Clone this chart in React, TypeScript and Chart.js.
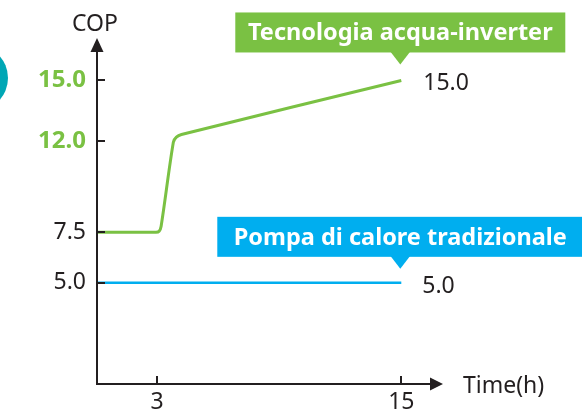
import React, { useEffect, useRef } from "react";
import { Chart, registerables } from "chart.js";

Chart.register(...registerables);

const FONT = "'Noto Sans', 'Open Sans', sans-serif";
const INK = "#231f20";
const GREEN = "#7ac143";
const BLUE = "#00aeef";
const TEAL = "#00a7b5";

// Data
const inverterTime = [0, 2.95, 3.1, 3.2, 3.8, 3.95, 4.2, 15];
const inverterCop = [7.5, 7.5, 7.55, 7.8, 11.95, 12.2, 12.33, 15];
const traditionalTime = [0, 15];
const traditionalCop = [5, 5];

const yTickValues = [5, 7.5, 12, 15];
const yTickLabels = ["5.0", "7.5", "12.0", "15.0"];
const yTickHighlighted = [false, false, true, true];
const xTickValues = [3, 15];
const xTickLabels = ["3", "15"];

const inverterLabel = "Tecnologia acqua-inverter";
const traditionalLabel = "Pompa di calore tradizionale";
const inverterEndLabel = "15.0";
const traditionalEndLabel = "5.0";
const yTitle = "COP";
const xTitle = "Time(h)";

const decorPlugin = {
  id: "decor",
  afterDatasetsDraw(chart: any) {
    const { ctx, chartArea, scales } = chart;
    const xs = scales.x;
    const ys = scales.y;
    const left = chartArea.left + 1;
    const bottom = chartArea.bottom;
    ctx.save();
    ctx.strokeStyle = INK;
    ctx.fillStyle = INK;
    ctx.lineWidth = 2;
    // axes
    ctx.beginPath();
    ctx.moveTo(left, bottom + 1);
    ctx.lineTo(left, chartArea.top + 10);
    ctx.moveTo(left - 1, bottom);
    ctx.lineTo(chartArea.right - 10, bottom);
    ctx.stroke();
    // arrows
    ctx.beginPath();
    ctx.moveTo(left, chartArea.top - 2);
    ctx.lineTo(left - 6.5, chartArea.top + 12);
    ctx.lineTo(left + 6.5, chartArea.top + 12);
    ctx.closePath();
    ctx.fill();
    ctx.beginPath();
    ctx.moveTo(chartArea.right + 1, bottom);
    ctx.lineTo(chartArea.right - 12, bottom - 6.5);
    ctx.lineTo(chartArea.right - 12, bottom + 6.5);
    ctx.closePath();
    ctx.fill();
    // tick marks
    ctx.lineWidth = 2;
    ctx.beginPath();
    yTickValues.forEach((v) => {
      const y = Math.round(ys.getPixelForValue(v));
      ctx.moveTo(left, y);
      ctx.lineTo(left + 8, y);
    });
    xTickValues.forEach((v) => {
      const x = Math.round(xs.getPixelForValue(v));
      ctx.moveTo(x, bottom);
      ctx.lineTo(x, bottom - 8);
    });
    ctx.stroke();
    ctx.restore();
  },
  afterDraw(chart: any) {
    const { ctx, chartArea, scales } = chart;
    const xs = scales.x;
    const ys = scales.y;
    ctx.save();
    // teal decoration circle
    ctx.fillStyle = TEAL;
    ctx.beginPath();
    ctx.arc(-25, 78, 33, 0, Math.PI * 2);
    ctx.fill();

    // axis titles
    ctx.fillStyle = INK;
    ctx.font = `23px ${FONT}`;
    ctx.textAlign = "center";
    ctx.textBaseline = "alphabetic";
    ctx.fillText(yTitle, chartArea.left - 1, 30.5);
    ctx.textAlign = "left";
    ctx.fillText(xTitle, chartArea.right + 21, chartArea.bottom + 9);

    // end labels
    const endX = xs.getPixelForValue(inverterTime[inverterTime.length - 1]);
    const gY = ys.getPixelForValue(inverterCop[inverterCop.length - 1]);
    const bX = xs.getPixelForValue(traditionalTime[traditionalTime.length - 1]);
    const bY = ys.getPixelForValue(traditionalCop[traditionalCop.length - 1]);
    ctx.fillText(inverterEndLabel, endX + 22, gY + 9.5);
    ctx.fillText(traditionalEndLabel, bX + 21, bY + 10);

    // callouts
    const callout = (text: string, color: string, tipX: number, tipY: number, halfW: number) => {
      const boxBottom = tipY - 12;
      const boxTop = boxBottom - 40;
      ctx.fillStyle = color;
      ctx.fillRect(tipX - halfW, boxTop, halfW * 2, 40);
      ctx.beginPath();
      ctx.moveTo(tipX - 10, boxBottom - 1);
      ctx.lineTo(tipX + 10, boxBottom - 1);
      ctx.lineTo(tipX, tipY);
      ctx.closePath();
      ctx.fill();
      ctx.fillStyle = "#ffffff";
      ctx.font = `bold 23.5px ${FONT}`;
      ctx.textAlign = "center";
      ctx.textBaseline = "alphabetic";
      ctx.fillText(text, tipX, boxTop + 28);
    };
    callout(inverterLabel, GREEN, endX - 1, gY - 16, 165);
    callout(traditionalLabel, BLUE, bX - 1, bY - 14, 183);
    ctx.restore();
  },
};

export default function App() {
  const ref = useRef<HTMLCanvasElement | null>(null);
  useEffect(() => {
    document.body.style.margin = "0";
    if (!ref.current) return;
    const chart = new Chart(ref.current, {
      type: "line",
      data: {
        datasets: [
          {
            label: inverterLabel,
            data: inverterTime.map((t, i) => ({ x: t, y: inverterCop[i] })),
            borderColor: GREEN,
            borderWidth: 3,
            pointRadius: 0,
            tension: 0.3,
            fill: false,
          },
          {
            label: traditionalLabel,
            data: traditionalTime.map((t, i) => ({ x: t, y: traditionalCop[i] })),
            borderColor: BLUE,
            borderWidth: 2.5,
            pointRadius: 0,
            tension: 0,
            fill: false,
          },
        ],
      },
      options: {
        animation: false,
        responsive: false,
        devicePixelRatio: 1,
        layout: { padding: { left: 0, top: 40, right: 140, bottom: 0 } },
        plugins: { legend: { display: false }, tooltip: { enabled: false } },
        scales: {
          x: {
            type: "linear",
            min: 0,
            max: 17,
            border: { display: false },
            grid: { display: false, drawTicks: false },
            afterFit: (s: any) => {
              s.height = 32;
            },
            afterBuildTicks: (s: any) => {
              s.ticks = xTickValues.map((v) => ({ value: v }));
            },
            ticks: {
              padding: 5,
              maxRotation: 0,
              autoSkip: false,
              color: INK,
              font: { family: FONT, size: 23 },
              callback: (v: any) => {
                const i = xTickValues.indexOf(Number(v));
                return i >= 0 ? xTickLabels[i] : "";
              },
            },
          },
          y: {
            type: "linear",
            min: 0,
            max: 17,
            border: { display: false },
            grid: { display: false, drawTicks: false },
            afterFit: (s: any) => {
              s.width = 96;
            },
            afterBuildTicks: (s: any) => {
              s.ticks = yTickValues.map((v) => ({ value: v }));
            },
            ticks: {
              padding: 10,
              autoSkip: false,
              color: (c: any) => {
                const i = yTickValues.indexOf(c.tick?.value);
                return i >= 0 && yTickHighlighted[i] ? GREEN : INK;
              },
              font: (c: any) => {
                const i = yTickValues.indexOf(c.tick?.value);
                const hi = i >= 0 && yTickHighlighted[i];
                return {
                  family: FONT,
                  size: hi ? 24 : 23,
                  weight: hi ? "bold" : "normal",
                };
              },
              callback: (v: any) => {
                const i = yTickValues.indexOf(Number(v));
                return i >= 0 ? yTickLabels[i] : "";
              },
            },
          },
        },
      },
      plugins: [decorPlugin],
    });
    return () => chart.destroy();
  }, []);
  return (
    <canvas ref={ref} width={582} height={416} style={{ display: "block", width: 582, height: 416 }} />
  );
}
